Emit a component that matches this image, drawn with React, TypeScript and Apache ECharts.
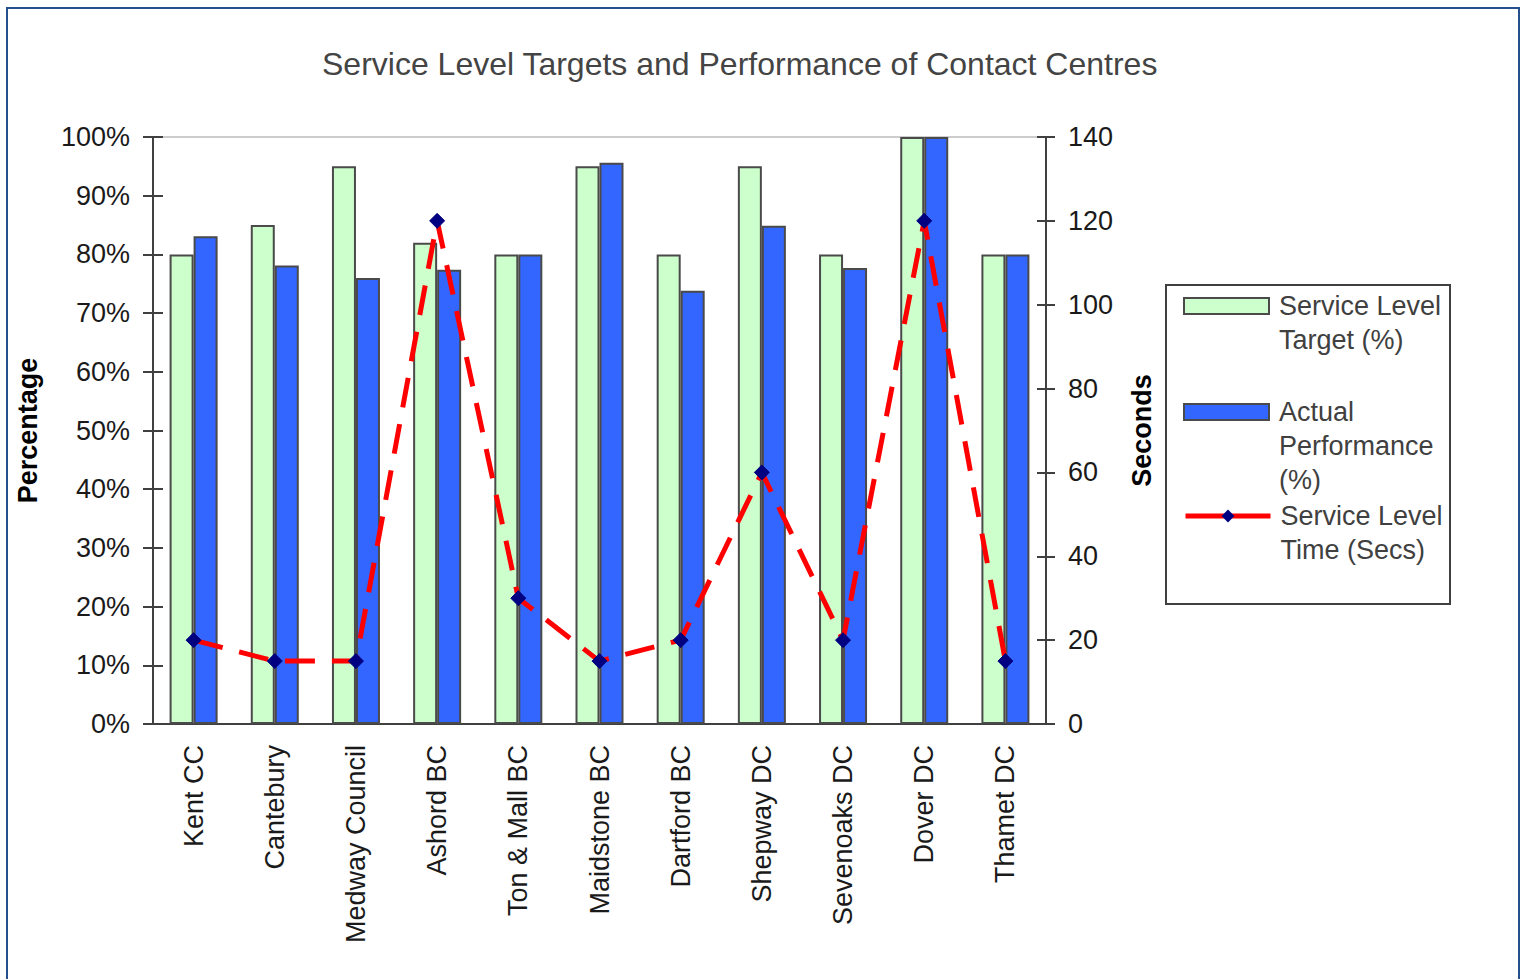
import React, { useEffect, useRef } from "react";
import * as echarts from "echarts";

const categories = [
  "Kent CC",
  "Cantebury",
  "Medway Council",
  "Ashord BC",
  "Ton & Mall BC",
  "Maidstone BC",
  "Dartford BC",
  "Shepway DC",
  "Sevenoaks DC",
  "Dover DC",
  "Thamet DC",
];
const targetPct = [80, 85, 95, 82, 80, 95, 80, 95, 80, 100, 80];
const actualPct = [83.1, 78.1, 76, 77.4, 80, 95.6, 73.8, 84.9, 77.7, 100, 80];
const timeSecs = [20, 15, 15, 120, 30, 15, 20, 60, 20, 120, 15];

const seriesNames = [
  "Service Level Target (%)",
  "Actual Performance (%)",
  "Service Level Time (Secs)",
];
const legendLabels: Record<string, string> = {
  "Service Level Target (%)": "\nService Level\nTarget (%)",
  "Actual Performance (%)": "\n\nActual\nPerformance\n(%)",
  "Service Level Time (Secs)": "\nService Level\nTime (Secs)",
};

const FONT = "'Liberation Sans', Arial, sans-serif";
const AX = "#404040";

export default function App() {
  const ref = useRef<HTMLDivElement>(null);
  useEffect(() => {
    if (!ref.current) return;
    const chart = echarts.init(ref.current, null, { renderer: "svg" });
    const legendText = {
      fontSize: 27,
      lineHeight: 34,
      color: "#404040",
      fontFamily: FONT,
      padding: [0, 0, 0, 5],
    };
    const mkLegend = (name: string, top: number, icon?: string) => ({
      data: [name],
      left: 1183,
      top,
      padding: 0,
      itemWidth: 85,
      itemHeight: 16,
      selectedMode: false,
      ...(icon ? { icon } : {}),
      lineStyle: { width: 5, type: "solid" },
      formatter: (n: string) => legendLabels[n] || n,
      textStyle: legendText,
    });
    chart.setOption({
      animation: false,
      backgroundColor: "#ffffff",
      textStyle: { fontFamily: FONT },
      title: {
        text: "Service Level Targets and Performance of Contact Centres",
        left: 322,
        top: 48,
        padding: 0,
        textStyle: {
          fontSize: 32,
          fontWeight: "normal",
          color: "#444444",
          fontFamily: FONT,
        },
      },
      legend: [
        mkLegend(seriesNames[0], 255, "rect"),
        mkLegend(seriesNames[1], 327, "rect"),
        mkLegend(seriesNames[2], 465),
      ],
      graphic: [
        {
          type: "rect",
          shape: { x: 7, y: 8, width: 1512, height: 1000 },
          style: { fill: "none", stroke: "#24508c", lineWidth: 2 },
          silent: true,
        },
        {
          type: "rect",
          shape: { x: 1166, y: 285, width: 284, height: 319 },
          style: { fill: "none", stroke: "#404040", lineWidth: 2 },
          silent: true,
          z: -1,
        },
      ],
      grid: {
        left: 153,
        right: 477,
        top: 137,
        bottom: 255,
        show: true,
        borderColor: "#9a9a9a",
        borderWidth: 1,
      },
      xAxis: [
        {
          type: "category",
          data: categories,
          axisLine: { lineStyle: { color: AX, width: 2 } },
          axisTick: { length: 9, lineStyle: { color: AX, width: 2 } },
          axisLabel: {
            rotate: 90,
            margin: 21,
            fontSize: 27,
            color: "#1a1a1a",
            fontFamily: FONT,
            interval: 0,
          },
        },
        {
          type: "category",
          data: categories,
          position: "bottom",
          axisLine: { show: false },
          axisTick: { inside: true, length: 9, lineStyle: { color: AX, width: 2 } },
          axisLabel: { show: false },
        },
      ],
      yAxis: [
        {
          type: "value",
          min: 0,
          max: 100,
          interval: 10,
          position: "left",
          name: "Percentage",
          nameLocation: "middle",
          nameGap: 112,
          nameTextStyle: {
            fontSize: 27,
            fontWeight: "bold",
            color: "#000000",
            fontFamily: FONT,
          },
          axisLine: { show: true, lineStyle: { color: AX, width: 2 } },
          axisTick: { show: true, length: 10, lineStyle: { color: AX, width: 2 } },
          axisLabel: {
            formatter: "{value}%",
            margin: 23,
            fontSize: 27,
            color: "#1a1a1a",
            fontFamily: FONT,
          },
          splitLine: { show: false },
        },
        {
          type: "value",
          min: 0,
          max: 140,
          interval: 20,
          position: "right",
          name: "Seconds",
          nameLocation: "middle",
          nameGap: 82,
          nameTextStyle: {
            fontSize: 27,
            fontWeight: "bold",
            color: "#000000",
            fontFamily: FONT,
          },
          axisLine: { show: true, lineStyle: { color: AX, width: 2 } },
          axisTick: { show: true, length: 9, lineStyle: { color: AX, width: 2 } },
          axisLabel: {
            margin: 22,
            fontSize: 27,
            color: "#1a1a1a",
            fontFamily: FONT,
          },
          splitLine: { show: false },
        },
        {
          type: "value",
          min: 0,
          max: 100,
          interval: 10,
          position: "left",
          axisLine: { show: false },
          axisTick: { show: true, inside: true, length: 10, lineStyle: { color: AX, width: 2 } },
          axisLabel: { show: false },
          splitLine: { show: false },
        },
        {
          type: "value",
          min: 0,
          max: 140,
          interval: 20,
          position: "right",
          axisLine: { show: false },
          axisTick: { show: true, inside: true, length: 9, lineStyle: { color: AX, width: 2 } },
          axisLabel: { show: false },
          splitLine: { show: false },
        },
      ],
      series: [
        {
          name: seriesNames[0],
          type: "bar",
          xAxisIndex: 0,
          yAxisIndex: 0,
          data: targetPct,
          barWidth: 24,
          barGap: "0%",
          itemStyle: { color: "#CCFFCC", borderColor: "#4a4a4a", borderWidth: 2 },
        },
        {
          name: seriesNames[1],
          type: "bar",
          xAxisIndex: 0,
          yAxisIndex: 0,
          data: actualPct,
          barWidth: 24,
          barGap: "0%",
          itemStyle: { color: "#3366FF", borderColor: "#4a4a4a", borderWidth: 2 },
        },
        {
          name: seriesNames[2],
          type: "line",
          xAxisIndex: 0,
          yAxisIndex: 1,
          data: timeSecs,
          symbol: "diamond",
          symbolSize: 15,
          z: 5,
          lineStyle: { color: "#FF0000", width: 5, type: [30, 17] },
          itemStyle: { color: "#000080", borderColor: "#000080" },
        },
      ],
    });
    return () => chart.dispose();
  }, []);
  return (
    <div
      ref={ref}
      style={{ position: "absolute", left: 0, top: 0, width: 1523, height: 979 }}
    />
  );
}
